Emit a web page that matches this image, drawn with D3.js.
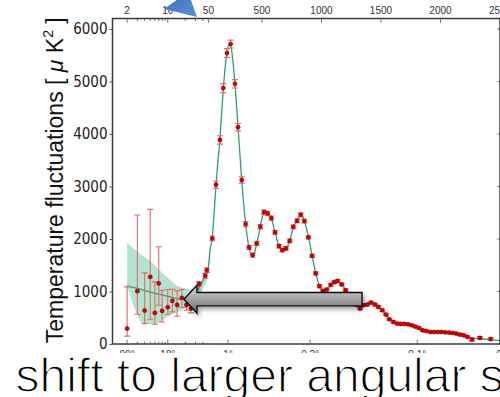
<!DOCTYPE html>
<html>
<head>
<meta charset="utf-8">
<script src="https://cdn.jsdelivr.net/npm/d3@7"></script>
<style>
  body { margin: 0; background: #fff; }
  svg { display: block; }
</style>
</head>
<body>
<svg id="chart" width="500" height="397"></svg>
<script>
// low-l points (asymmetric error bars)
const lowEll = [2, 3, 4, 5, 6, 7, 8, 10, 12, 14.5, 17.5, 21, 25];
const lowD   = [294, 1006, 637, 1279, 592, 1153, 630, 700, 821, 745, 878, 745, 675];
const lowHi  = [1088, 2456, 1355, 2565, 1183, 1851, 1025, 1038, 1044, 1012, 1038, 878, 783];
const lowLo  = [150, 567, 389, 471, 376, 739, 420, 567, 611, 529, 695, 643, 592];

// binned high-l points
const highEll = [34.5, 44, 47, 83, 114, 147, 175, 206, 237, 273, 299, 330, 363, 392, 422, 456, 486, 517, 548, 579,
  610, 643, 671, 702, 733, 763, 795, 826, 856, 890, 921, 952, 983, 1012, 1044, 1078, 1108, 1136, 1170, 1203,
  1236, 1265, 1295, 1324, 1352, 1385, 1416, 1450, 1478, 1511, 1542, 1570, 1604, 1637, 1666, 1696, 1727, 1758,
  1788, 1819, 1850, 1881, 1915, 1946, 1977, 2007, 2038, 2072, 2103, 2133, 2164, 2195, 2226, 2265, 2332, 2422];
const highD = [1145, 1298, 1406, 2011, 3034, 3887, 4874, 5542, 5714, 4956, 4130, 3124, 2284, 1840, 1693, 1916, 2233, 2513, 2488, 2399,
  2126, 1865, 1788, 1820, 1966, 2233, 2347, 2462, 2342, 2031, 1680, 1344, 1101, 1011, 1038, 1126, 1177, 1202, 1134, 1025,
  900, 800, 745, 676, 739, 752, 790, 752, 706, 643, 561, 471, 420, 389, 382, 382, 376, 357,
  332, 305, 261, 248, 229, 229, 229, 229, 223, 218, 210, 198, 179, 166, 134, 84, 115, 95];
const highErr = [45, 45, 45, 45, 70, 80, 85, 85, 75, 80, 70, 60, 50, 40, 40, 40, 40, 40, 40, 40,
  35, 35, 35, 35, 35, 35, 35, 35, 35, 30, 30, 30, 30, 25, 25, 25, 25, 25, 25, 25,
  25, 25, 25, 25, 25, 25, 25, 25, 25, 25, 20, 20, 20, 20, 20, 20, 20, 20,
  20, 20, 20, 20, 20, 20, 20, 20, 20, 20, 20, 20, 20, 20, 20, 25, 25, 25];

// best-fit model curve
const modelEll = [2, 3, 4, 5, 7, 10, 14, 20, 25, 30, 34, 40, 44, 50, 63, 83, 100, 114, 130, 147, 160, 175, 190, 206, 222, 237,
  255, 273, 299, 330, 363, 392, 410, 422, 440, 456, 486, 510, 530, 548, 579, 610, 643, 671, 690, 702, 733, 763, 795,
  815, 835, 856, 890, 921, 952, 983, 1005, 1025, 1044, 1078, 1110, 1136, 1170, 1203, 1236, 1265, 1295, 1324, 1352,
  1385, 1416, 1450, 1478, 1511, 1542, 1570, 1604, 1637, 1666, 1696, 1727, 1758, 1788, 1819, 1850, 1881, 1915, 1977,
  2038, 2103, 2164, 2226, 2265, 2332, 2422, 2500];
const modelD = [1107, 1060, 1020, 990, 948, 905, 866, 850, 866, 950, 1060, 1200, 1320, 1470, 1780, 2030, 2560, 3030, 3480, 3900, 4350, 4850, 5250, 5560, 5700, 5690,
  5400, 4960, 4130, 3120, 2280, 1830, 1700, 1690, 1760, 1910, 2230, 2470, 2530, 2500, 2390, 2130, 1870, 1790, 1790, 1815, 1960, 2220, 2360,
  2440, 2440, 2340, 2040, 1690, 1350, 1110, 1020, 1010, 1040, 1125, 1180, 1195, 1135, 1025, 900, 800, 735, 700, 735,
  765, 785, 755, 705, 640, 560, 480, 425, 393, 382, 380, 374, 356, 332, 305, 268, 246, 232, 228,
  222, 208, 180, 140, 115, 100, 82, 65];

// cosmic variance band
const bandEll = [2, 3, 3.6, 5, 7, 10, 14, 20, 27, 34, 40, 50, 60];
const bandHi  = [1927, 1760, 1690, 1580, 1420, 1260, 1120, 1060, 1044, 1090, 1230, 1500, 1720];
const bandLo  = [1107, 560, 400, 380, 400, 520, 600, 680, 780, 920, 1050, 1330, 1560];

const topTicks = [2, 10, 50, 500, 1000, 1500, 2000, 2500];
const minorLog = [3, 4, 5, 6, 7, 8, 9, 20, 30, 40];
const angleLabels = ['90°', '18°', '1°', '0.2°', '0.1°', '0.07°'];
const angleEll = [2, 10, 215, 905, 1805, 2570];
const yTicks = [0, 1000, 2000, 3000, 4000, 5000, 6000];

const svg = d3.select('#chart');
const W = 500, H = 397;
const plotL = 112.5, plotR = 500, plotT = 18.5, plotB = 344, brk = 208.4;

const xLog = d3.scaleLog().domain([1.12, 50]).range([plotL, brk]);
const xLin = d3.scaleLinear().domain([50, 2500]).range([brk, plotR]);
const x = l => l < 50 ? xLog(l) : xLin(l);
const y = d3.scaleLinear().domain([0, 6200]).range([plotB, plotT]);

const defs = svg.append('defs');
defs.append('clipPath').attr('id', 'plot-clip')
  .append('rect').attr('x', plotL).attr('y', plotT).attr('width', plotR - plotL).attr('height', plotB - plotT);

const grad = defs.append('linearGradient').attr('id', 'arrow-grad')
  .attr('x1', 0).attr('y1', 0).attr('x2', 0).attr('y2', 1);
grad.append('stop').attr('offset', '0%').attr('stop-color', '#dcdcdc');
grad.append('stop').attr('offset', '100%').attr('stop-color', '#686868');

const bgrad = defs.append('linearGradient').attr('id', 'blue-grad')
  .attr('x1', 0).attr('y1', 0).attr('x2', 1).attr('y2', 1);
bgrad.append('stop').attr('offset', '0%').attr('stop-color', '#3b6fb8');
bgrad.append('stop').attr('offset', '100%').attr('stop-color', '#5d91d2');

const shadow = defs.append('filter').attr('id', 'shadow')
  .attr('x', '-10%').attr('y', '-50%').attr('width', '130%').attr('height', '220%');
shadow.append('feDropShadow').attr('dx', 2).attr('dy', 3).attr('stdDeviation', 2)
  .attr('flood-color', '#000').attr('flood-opacity', 0.35);

const plot = svg.append('g').attr('clip-path', 'url(#plot-clip)');

// band
const band = bandEll.map((l, i) => ({ l, hi: bandHi[i], lo: bandLo[i] }));
plot.append('path')
  .datum(band)
  .attr('fill', '#b3e4cf')
  .attr('d', d3.area().x(d => x(d.l)).y0(d => y(d.lo)).y1(d => y(d.hi)).curve(d3.curveMonotoneX));

// model
const model = modelEll.map((l, i) => ({ l, d: modelD[i] }));
plot.append('path')
  .datum(model)
  .attr('fill', 'none')
  .attr('stroke', '#2f9e70')
  .attr('stroke-width', 1.3)
  .attr('d', d3.line().x(d => x(d.l)).y(d => y(d.d)).curve(d3.curveMonotoneX));

// points with error bars
const pts = lowEll.map((l, i) => ({ l, d: lowD[i], hi: lowHi[i], lo: lowLo[i] }))
  .concat(highEll.map((l, i) => ({ l, d: highD[i], hi: highD[i] + highErr[i], lo: highD[i] - highErr[i] })));

const eb = plot.append('g').attr('stroke', '#e06a6a').attr('stroke-width', 1.1).attr('fill', 'none');
eb.selectAll('.bar').data(pts).enter().append('line')
  .attr('x1', d => x(d.l)).attr('x2', d => x(d.l))
  .attr('y1', d => y(d.hi)).attr('y2', d => y(d.lo));
eb.selectAll('.cap-hi').data(pts).enter().append('line')
  .attr('x1', d => x(d.l) - 3).attr('x2', d => x(d.l) + 3)
  .attr('y1', d => y(d.hi)).attr('y2', d => y(d.hi));
eb.selectAll('.cap-lo').data(pts).enter().append('line')
  .attr('x1', d => x(d.l) - 3).attr('x2', d => x(d.l) + 3)
  .attr('y1', d => y(d.lo)).attr('y2', d => y(d.lo));

plot.append('g').selectAll('circle').data(pts).enter().append('circle')
  .attr('cx', d => x(d.l)).attr('cy', d => y(d.d)).attr('r', 2.1)
  .attr('fill', '#d10000').attr('stroke', '#7a0000').attr('stroke-width', 0.5);

// frame
svg.append('rect')
  .attr('x', plotL).attr('y', plotT).attr('width', plotR - plotL).attr('height', plotB - plotT)
  .attr('fill', 'none').attr('stroke', '#3a3a3a').attr('stroke-width', 1.5);

// top axis
const topG = svg.append('g').attr('font-family', '"Liberation Sans", Arial, sans-serif')
  .attr('font-size', 10).attr('fill', '#333');
topG.selectAll('.tt').data(topTicks).enter().append('line')
  .attr('x1', d => x(d)).attr('x2', d => x(d))
  .attr('y1', plotT).attr('y2', plotT + 4.5).attr('stroke', '#555').attr('stroke-width', 0.8);
topG.selectAll('.tm').data(minorLog).enter().append('line')
  .attr('x1', d => x(d)).attr('x2', d => x(d))
  .attr('y1', plotT).attr('y2', plotT + 2.5).attr('stroke', '#555').attr('stroke-width', 0.8);
topG.selectAll('text').data(topTicks).enter().append('text')
  .attr('x', d => x(d)).attr('y', plotT - 4.5).attr('text-anchor', 'middle').text(d => d);

// bottom axis
const botG = svg.append('g').attr('font-family', '"Liberation Sans", Arial, sans-serif')
  .attr('font-size', 10).attr('fill', '#333');
botG.selectAll('.bt').data(angleEll).enter().append('line')
  .attr('x1', d => x(d)).attr('x2', d => x(d))
  .attr('y1', plotB).attr('y2', plotB - 4.5).attr('stroke', '#555').attr('stroke-width', 0.8);
botG.selectAll('.bm').data(minorLog).enter().append('line')
  .attr('x1', d => x(d)).attr('x2', d => x(d))
  .attr('y1', plotB).attr('y2', plotB - 2.5).attr('stroke', '#555').attr('stroke-width', 0.8);
botG.selectAll('text').data(angleEll).enter().append('text')
  .attr('x', d => x(d)).attr('y', plotB + 13.5).attr('text-anchor', 'middle')
  .text((d, i) => angleLabels[i]);

// left axis
const yAxis = d3.axisLeft(y).tickValues(yTicks).tickSize(3).tickPadding(2).tickFormat(d3.format('d'));
const yG = svg.append('g').attr('transform', `translate(${plotL},0)`).call(yAxis);
yG.select('.domain').remove();
yG.selectAll('.tick line').attr('stroke', '#555');
yG.selectAll('.tick text')
  .attr('font-family', '"Liberation Sans Narrow", "DejaVu Sans Condensed", sans-serif')
  .attr('font-size', 15).attr('fill', '#222');

// right ticks
svg.append('g').selectAll('line').data(yTicks).enter().append('line')
  .attr('x1', plotR - 3).attr('x2', plotR).attr('y1', d => y(d)).attr('y2', d => y(d))
  .attr('stroke', '#666').attr('stroke-width', 0.8);

// y label
const yl = svg.append('text')
  .attr('transform', `translate(63,${(plotT + plotB) / 2 - 1})rotate(-90)`)
  .attr('text-anchor', 'middle')
  .attr('font-family', '"Liberation Sans", Arial, sans-serif')
  .attr('font-size', 23).attr('fill', '#111');
yl.append('tspan').text('Temperature fluctuations [ ');
yl.append('tspan').attr('font-style', 'italic').text('μ');
yl.append('tspan').text(' K');
yl.append('tspan').attr('font-size', 14).attr('dy', -10).text('2');
yl.append('tspan').attr('dy', 10).text(' ]');

// grey annotation arrow (placed in data space)
const tipX = x(19), tailX = x(1341), midY = y(853);
const shaftH = 6.7, headH = 14, headL = 13;
svg.append('path')
  .attr('d', `M${tipX},${midY} L${tipX + headL},${midY - headH} L${tipX + headL},${midY - shaftH}
    L${tailX},${midY - shaftH} L${tailX},${midY + shaftH} L${tipX + headL},${midY + shaftH}
    L${tipX + headL},${midY + headH} Z`)
  .attr('fill', 'url(#arrow-grad)').attr('stroke', '#111').attr('stroke-width', 1.4)
  .attr('stroke-linejoin', 'miter').attr('filter', 'url(#shadow)');

// blue arrow head at the top edge
svg.append('path')
  .attr('d', 'M164,9 L188,-8 L197,17 Z')
  .attr('fill', 'url(#blue-grad)');

// caption
svg.append('rect').attr('x', 0).attr('y', 353).attr('width', W).attr('height', H - 353).attr('fill', '#fff');
svg.append('text')
  .attr('x', 15.5).attr('y', 391.5)
  .attr('font-family', '"Liberation Sans", Arial, Helvetica, sans-serif')
  .attr('font-size', 48).attr('fill', '#000')
  .attr('stroke', '#fff').attr('stroke-width', 1.4).attr('paint-order', 'normal')
  .text('shift to larger angular scales');
</script>
</body>
</html>
